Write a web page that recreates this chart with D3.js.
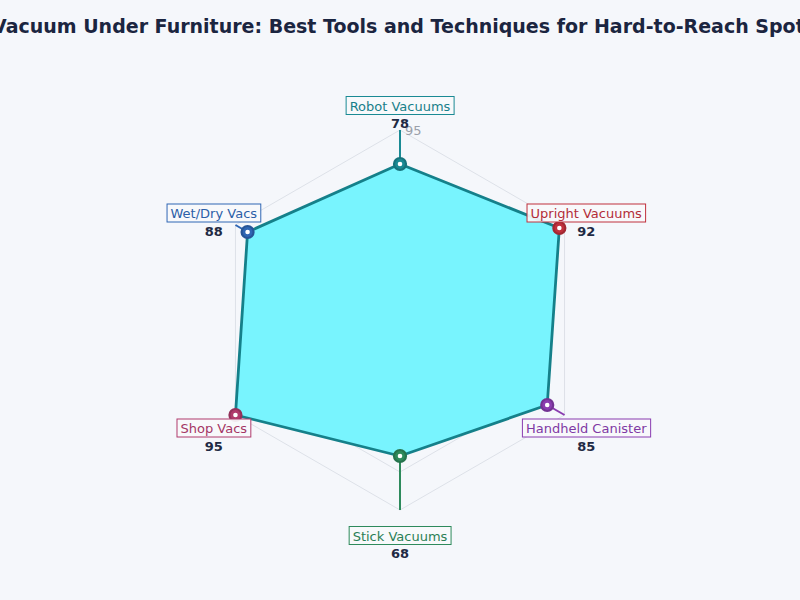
<!DOCTYPE html>
<html>
<head>
<meta charset="utf-8">
<script src="https://cdn.jsdelivr.net/npm/d3@7"></script>
<style>
  html, body { margin: 0; padding: 0; background: #f5f7fb; }
  svg { display: block; }
</style>
</head>
<body>
<svg id="chart" width="800" height="600"></svg>
<script>
const title = "Vacuum Under Furniture: Best Tools and Techniques for Hard-to-Reach Spots";
const categories = ["Robot Vacuums", "Upright Vacuums", "Handheld Canister", "Stick Vacuums", "Shop Vacs", "Wet/Dry Vacs"];
const values = [78, 92, 85, 68, 95, 88];
const colors = ["#1a8a94", "#c0303c", "#8a3db0", "#2e8a5c", "#b03a6c", "#2f66b4"];
const ringLevels = [19, 38, 57, 76, 95];
const tickLabels = ["95"];
const maxValue = 95;

const svg = d3.select("#chart");
const W = 800, H = 600;
const cx = 400, cy = 320;

svg.append("rect").attr("width", W).attr("height", H).attr("fill", "#f5f7fb");

svg.append("text")
  .attr("x", W / 2 + 4).attr("y", 33)
  .attr("text-anchor", "middle")
  .attr("font-family", "DejaVu Sans, sans-serif")
  .attr("font-weight", "bold")
  .attr("font-size", 19)
  .attr("fill", "#1b2540")
  .text(title);

const r = d3.scaleLinear().domain([0, maxValue]).range([0, 190]);
const angle = d3.scaleLinear().domain([0, categories.length]).range([0, 2 * Math.PI]);
const pt = (i, v) => {
  const a = angle(i);
  return [cx + r(v) * Math.sin(a), cy - r(v) * Math.cos(a)];
};

const g = svg.append("g");

// grid rings
ringLevels.forEach(lv => {
  g.append("path")
    .attr("d", d3.line()(categories.map((c, i) => pt(i, lv))) + "Z")
    .attr("fill", "none")
    .attr("stroke", "#dde1e8")
    .attr("stroke-width", 1);
});
// tick labels
tickLabels.forEach(lv => {
  const p = pt(0, +lv);
  g.append("text")
    .attr("x", p[0] + 5).attr("y", p[1] + 1)
    .attr("dominant-baseline", "middle")
    .attr("font-family", "DejaVu Sans, sans-serif")
    .attr("font-size", 13)
    .attr("fill", "#9aa0aa")
    .text(lv);
});

// spokes (category coloured)
categories.forEach((c, i) => {
  const p0 = pt(i, 0), p1 = pt(i, maxValue);
  g.append("line")
    .attr("x1", p0[0]).attr("y1", p0[1])
    .attr("x2", p1[0]).attr("y2", p1[1])
    .attr("stroke", colors[i])
    .attr("stroke-width", 2);
});

// polygon
g.append("path")
  .attr("d", d3.line()(values.map((v, i) => pt(i, v))) + "Z")
  .attr("fill", "#78f4fe")
  .attr("stroke", "#15808a")
  .attr("stroke-width", 2.8)
  .attr("stroke-linejoin", "round");

// markers
values.forEach((v, i) => {
  const p = pt(i, v);
  g.append("circle").attr("cx", p[0]).attr("cy", p[1]).attr("r", 6)
    .attr("fill", colors[i])
    .attr("stroke", d3.color(colors[i]).darker(0.5))
    .attr("stroke-width", 2.2);
  g.append("circle").attr("cx", p[0]).attr("cy", p[1]).attr("r", 2.3)
    .attr("fill", "#ffffff");
});

// labels
categories.forEach((c, i) => {
  const a = angle(i);
  const lx = cx + 215 * Math.sin(a), ly = cy - 215 * Math.cos(a);
  const lg = g.append("g");
  const t = lg.append("text")
    .attr("x", lx).attr("y", ly + 1)
    .attr("text-anchor", "middle")
    .attr("dominant-baseline", "central")
    .attr("font-family", "DejaVu Sans, sans-serif")
    .attr("font-size", 13)
    .attr("fill", d3.color(colors[i]).darker(0.2))
    .text(c);
  const bb = t.node().getBBox();
  lg.insert("rect", "text")
    .attr("x", bb.x - 3.5).attr("y", ly - 8.5)
    .attr("width", bb.width + 7).attr("height", 18)
    .attr("fill", "#f7f8fb")
    .attr("fill-opacity", 0.92)
    .attr("stroke", colors[i])
    .attr("stroke-width", 1);
  lg.append("text")
    .attr("x", lx).attr("y", ly + 18.5)
    .attr("text-anchor", "middle")
    .attr("dominant-baseline", "central")
    .attr("font-family", "DejaVu Sans, sans-serif")
    .attr("font-weight", "bold")
    .attr("font-size", 13)
    .attr("fill", "#1f2a44")
    .text(values[i]);
});
</script>
</body>
</html>
